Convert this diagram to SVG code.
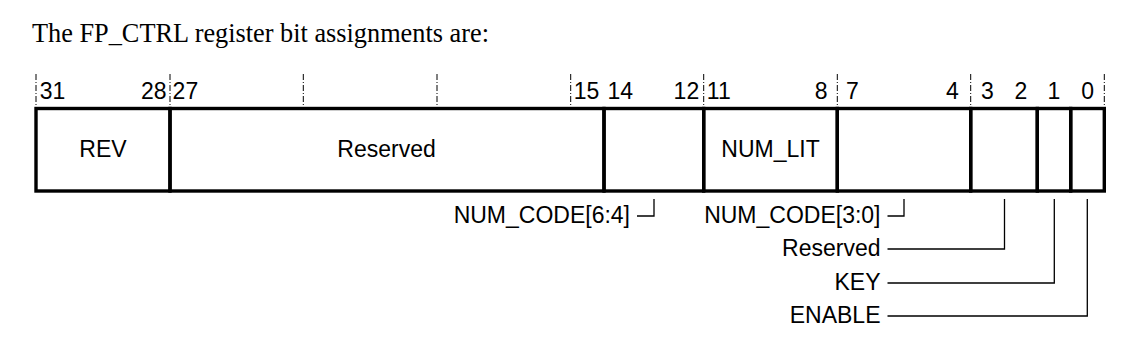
<svg xmlns="http://www.w3.org/2000/svg" width="1146" height="340" viewBox="0 0 1146 340">
<style>
.t{font-family:"Liberation Sans",Arial,sans-serif;font-size:23px;fill:#000}
.title{font-family:"Liberation Serif","Times New Roman",serif;font-size:26.3px;fill:#000}
.box{fill:none;stroke:#000;stroke-width:3.4}
.tick{stroke:#000;stroke-width:1;stroke-dasharray:6 2 1 2;fill:none}
.con{stroke:#000;stroke-width:1.3;fill:none}
.e{text-anchor:end}
.m{text-anchor:middle}
</style>
<rect width="1146" height="340" fill="#fff"/>
<text class="title" x="32" y="42">The FP_CTRL register bit assignments are:</text>

<g id="ticks">
<line class="tick" x1="36" y1="74" x2="36" y2="107"/>
<line class="tick" x1="170" y1="74" x2="170" y2="107"/>
<line class="tick" x1="303.3" y1="74" x2="303.3" y2="107"/>
<line class="tick" x1="437" y1="74" x2="437" y2="107"/>
<line class="tick" x1="570.7" y1="74" x2="570.7" y2="107"/>
<line class="tick" x1="703.7" y1="74" x2="703.7" y2="107"/>
<line class="tick" x1="837.3" y1="74" x2="837.3" y2="107"/>
<line class="tick" x1="970.7" y1="74" x2="970.7" y2="107"/>
<line class="tick" x1="1104.3" y1="74" x2="1104.3" y2="107"/>
</g>

<g id="bit-numbers">
<text class="t" x="39.7" y="99">31</text>
<text class="t e" x="166.6" y="99">28</text>
<text class="t" x="172.6" y="99">27</text>
<text class="t e" x="599.4" y="99">15</text>
<text class="t" x="607.5" y="99">14</text>
<text class="t e" x="699.2" y="99">12</text>
<text class="t" x="706.8" y="99">11</text>
<text class="t e" x="827.6" y="99">8</text>
<text class="t" x="846" y="99">7</text>
<text class="t e" x="958.8" y="99">4</text>
<text class="t m" x="987.4" y="99">3</text>
<text class="t m" x="1020.8" y="99">2</text>
<text class="t m" x="1054" y="99">1</text>
<text class="t m" x="1087.6" y="99">0</text>
</g>

<g id="field-rev">
<rect class="box" x="36" y="108.5" width="134" height="82.5"/>
<text class="t m" x="103" y="157">REV</text>
</g>
<g id="field-reserved-27-15">
<rect class="box" x="170" y="108.5" width="434" height="82.5"/>
<text class="t m" x="386.5" y="157">Reserved</text>
</g>
<g id="field-num-code-hi">
<rect class="box" x="604" y="108.5" width="99.7" height="82.5"/>
</g>
<g id="field-num-lit">
<rect class="box" x="703.7" y="108.5" width="133.6" height="82.5"/>
<text class="t m" x="770.5" y="157">NUM_LIT</text>
</g>
<g id="field-num-code-lo">
<rect class="box" x="837.3" y="108.5" width="133.4" height="82.5"/>
</g>
<g id="field-reserved-3-2">
<rect class="box" x="970.7" y="108.5" width="66.6" height="82.5"/>
</g>
<g id="field-key">
<rect class="box" x="1037.3" y="108.5" width="33.4" height="82.5"/>
</g>
<g id="field-enable">
<rect class="box" x="1070.7" y="108.5" width="33.6" height="82.5"/>
</g>

<g id="callout-labels">
<text class="t e" x="630" y="223">NUM_CODE[6:4]</text>
<text class="t e" x="880.5" y="223">NUM_CODE[3:0]</text>
<text class="t e" x="880.5" y="256">Reserved</text>
<text class="t e" x="880.5" y="290">KEY</text>
<text class="t e" x="880.5" y="323">ENABLE</text>
</g>

<g id="connectors">
<polyline class="con" points="637,216 654,216 654,199"/>
<polyline class="con" points="887.5,216 904,216 904,199"/>
<polyline class="con" points="887.5,249 1004.5,249 1004.5,199"/>
<polyline class="con" points="887.5,283 1054.3,283 1054.3,199"/>
<polyline class="con" points="887.5,316 1087.3,316 1087.3,199"/>
</g>
</svg>
